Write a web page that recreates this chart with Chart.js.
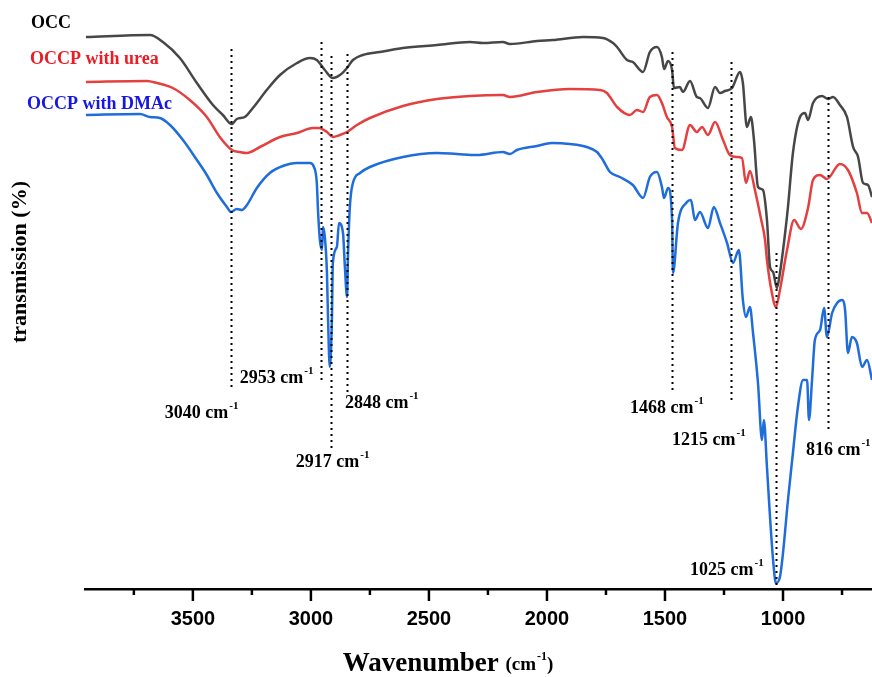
<!DOCTYPE html>
<html>
<head>
<meta charset="utf-8">
<script src="https://cdn.jsdelivr.net/npm/chart.js@4.4.1/dist/chart.umd.min.js"></script>
<style>
  html, body { margin: 0; padding: 0; background: #fff; }
  canvas { display: block; }
</style>
</head>
<body>
<canvas id="ftir" width="872" height="677" style="width:872px;height:677px"></canvas>
<script>
// FTIR spectra, wavenumber (cm-1) and transmission (a.u., curves stacked)
const occWn = [3953,3682,3627,3555,3483,3415,3373,3335,3314,3280,3246,3187,3131,3059,3004,2975,2941,2907,2877,2847,2822,2780,2708,2610,2466,2326,2271,2187,2157,2042,1975,1847,1763,1720,1703,1661,1636,1593,1564,1534,1513,1504,1487,1470,1462,1437,1424,1394,1365,1352,1318,1288,1267,1246,1216,1182,1170,1153,1136,1123,1106,1085,1068,1055,1042,1026,1013,992,979,958,928,907,894,873,835,809,788,759,729,703,682,661,640,623];
const occT = [552,554,547,531,506,484,474,465,470,472,481,499,514,526,531,529,519,511,514,521,529,534,537,541,544,547,546,547,545,548,549,552,551,546,542,529,527,517,537,542,532,520,528,519,501,502,497,508,492,491,481,502,496,498,501,517,506,462,472,449,402,399,369,322,317,301,316,354,382,436,472,476,469,486,493,490,492,484,472,442,432,406,404,392];

const ureaWn = [3953,3695,3652,3585,3513,3441,3386,3335,3301,3271,3216,3131,3059,2992,2966,2932,2907,2877,2847,2805,2750,2610,2466,2326,2187,2157,2042,1903,1775,1746,1733,1703,1648,1619,1593,1564,1534,1513,1492,1470,1458,1428,1394,1365,1343,1318,1288,1254,1225,1195,1174,1157,1140,1119,1094,1076,1068,1047,1030,1013,983,953,924,894,873,843,814,759,725,687,665,644,623];
const ureaT = [507,508,506,501,489,472,452,439,437,436,442,452,456,461,461,457,452,454,457,464,471,483,490,493,494,492,497,500,499,496,492,482,474,479,477,492,494,486,472,462,441,439,464,457,462,454,467,449,434,432,431,406,418,399,371,349,329,296,282,299,339,369,360,381,409,414,410,425,419,396,376,376,366];

const dmacWn = [3953,3724,3682,3640,3597,3542,3483,3441,3398,3356,3339,3314,3292,3271,3229,3174,3119,3059,3004,2987,2975,2970,2962,2953,2949,2941,2932,2928,2920,2911,2907,2890,2881,2864,2856,2847,2843,2835,2822,2792,2750,2610,2466,2381,2297,2187,2157,2127,2042,1979,1903,1831,1788,1763,1733,1691,1636,1593,1564,1534,1513,1504,1487,1470,1466,1445,1407,1390,1373,1352,1318,1293,1267,1237,1212,1187,1170,1157,1140,1127,1106,1089,1081,1068,1055,1042,1030,1013,1000,979,958,937,915,898,890,877,865,843,826,814,792,771,750,737,725,708,687,665,644,623];
const dmacT = [474,475,472,471,464,449,429,414,396,382,377,380,379,384,401,416,423,426,426,422,406,379,349,339,362,352,316,276,222,269,326,342,366,356,322,292,332,382,406,416,422,432,436,435,434,437,435,439,443,446,445,442,437,429,417,412,404,391,412,417,402,391,401,369,316,366,387,389,369,377,361,382,366,346,326,339,289,272,282,256,206,149,169,122,72,29,6,12,36,89,136,182,209,209,169,209,249,259,281,252,276,286,289,279,236,252,246,222,229,209];

// peak markers (dotted lines) and their labels
const peakWn = [3339, 2958, 2913, 2847, 1470, 1220, 1030, 809];
const peakTop = [540, 547, 533, 535, 537, 527, 336, 492];
const peakBottom = [201, 207, 139, 196, 199, 189, 2, 156];
const peakLabels = ['3040', '2953', '2917', '2848', '1468', '1215', '1025', '816'];
const labelWn = [3619, 3301, 3064, 2856, 1648, 1470, 1394, 903];
const labelT = [176, 211, 127, 186, 181, 149, 19, 139];

const seriesNames = ['OCC', 'OCCP with urea', 'OCCP with DMAc'];

const toPoints = (xs, ys) => xs.map((x, i) => ({ x: x, y: ys[i] }));

const SERIF = '"Liberation Serif", "Times New Roman", serif';

function drawCm(ctx, x, y, num, size) {
  // "NNNN cm" with superscript -1
  ctx.font = 'bold ' + size + 'px ' + SERIF;
  const main = num + ' cm';
  ctx.fillText(main, x, y);
  const w = ctx.measureText(main).width;
  ctx.font = 'bold ' + Math.round(size * 0.62) + 'px ' + SERIF;
  ctx.fillText('-1', x + w + 1, y - size * 0.38);
}

const overlay = {
  id: 'overlay',
  afterDraw(chart) {
    const { ctx, scales: { x, y } } = chart;
    ctx.save();

    // tick marks, long every 500 and short every 250
    ctx.strokeStyle = '#000';
    ctx.lineWidth = 2.5;
    const base = chart.chartArea.bottom;
    x.ticks.forEach(t => {
      const px = x.getPixelForValue(t.value);
      const len = t.value % 500 === 0 ? 12 : 6;
      ctx.beginPath();
      ctx.moveTo(px, base);
      ctx.lineTo(px, base + len);
      ctx.stroke();
    });

    // dotted peak lines
    ctx.lineWidth = 2;
    ctx.setLineDash([2, 4]);
    peakWn.forEach((wn, i) => {
      const px = Math.round(x.getPixelForValue(wn)) + 0.5;
      ctx.beginPath();
      ctx.moveTo(px, y.getPixelForValue(peakTop[i]));
      ctx.lineTo(px, y.getPixelForValue(peakBottom[i]));
      ctx.stroke();
    });
    ctx.setLineDash([]);

    // peak labels
    ctx.fillStyle = '#000';
    ctx.textAlign = 'left';
    ctx.textBaseline = 'middle';
    peakLabels.forEach((lab, i) => {
      drawCm(ctx, x.getPixelForValue(labelWn[i]), y.getPixelForValue(labelT[i]), lab, 18);
    });

    // series names
    ctx.font = 'bold 18px ' + SERIF;
    ctx.fillStyle = '#000';
    ctx.fillText(seriesNames[0], 31, 23);
    ctx.fillStyle = '#ec1c24';
    ctx.fillText(seriesNames[1], 30, 59);
    ctx.fillStyle = '#1717e3';
    ctx.fillText(seriesNames[2], 27, 104);

    // y title
    ctx.fillStyle = '#000';
    ctx.save();
    ctx.translate(20, 262);
    ctx.rotate(-Math.PI / 2);
    ctx.textAlign = 'center';
    ctx.font = 'bold 22px ' + SERIF;
    ctx.fillText('transmission (%)', 0, 0);
    ctx.restore();

    // x title
    const big = 'bold 27px ' + SERIF, small = 'bold 19px ' + SERIF, sup = 'bold 12px ' + SERIF;
    ctx.font = big; const w1 = ctx.measureText('Wavenumber ').width;
    ctx.font = small; const w2 = ctx.measureText('(cm').width;
    ctx.font = sup; const w3 = ctx.measureText('-1').width;
    ctx.font = small; const w4 = ctx.measureText(')').width;
    let tx = 448 - (w1 + w2 + w3 + w4 + 1) / 2;
    const ty = 664;
    ctx.textAlign = 'left';
    ctx.font = big; ctx.fillText('Wavenumber ', tx, ty); tx += w1;
    ctx.font = small; ctx.fillText('(cm', tx, ty + 1); tx += w2;
    ctx.font = sup; ctx.fillText('-1', tx + 1, ty - 7); tx += w3 + 1;
    ctx.font = small; ctx.fillText(')', tx, ty + 1);

    ctx.restore();
  }
};

new Chart(document.getElementById('ftir'), {
  type: 'line',
  data: {
    datasets: [
      { label: seriesNames[0], data: toPoints(occWn, occT), borderColor: '#474747' },
      { label: seriesNames[1], data: toPoints(ureaWn, ureaT), borderColor: '#e3403f' },
      { label: seriesNames[2], data: toPoints(dmacWn, dmacT), borderColor: '#1f6ddb' }
    ]
  },
  options: {
    responsive: false,
    animation: false,
    devicePixelRatio: 1,
    layout: { padding: { left: 85, right: 0, top: 10, bottom: 38 } },
    elements: {
      line: { borderWidth: 2.5, tension: 0, cubicInterpolationMode: 'monotone' },
      point: { radius: 0 }
    },
    plugins: { legend: { display: false }, tooltip: { enabled: false } },
    scales: {
      x: {
        type: 'linear',
        reverse: true,
        min: 623,
        max: 3957,
        afterFit: (scale) => { scale.height = 50; },
        border: { display: true, color: '#000', width: 2.5 },
        grid: { drawOnChartArea: false, drawTicks: false, color: 'transparent' },
        ticks: {
          stepSize: 250,
          includeBounds: false,
          autoSkip: false,
          maxRotation: 0,
          padding: 18,
          color: '#000',
          font: { family: '"Liberation Sans", Arial, sans-serif', size: 20, weight: 'bold' },
          callback: (v) => (v % 500 === 0 ? String(v) : '')
        }
      },
      y: { display: false, min: 0, max: 579 }
    }
  },
  plugins: [overlay]
});
</script>
</body>
</html>
